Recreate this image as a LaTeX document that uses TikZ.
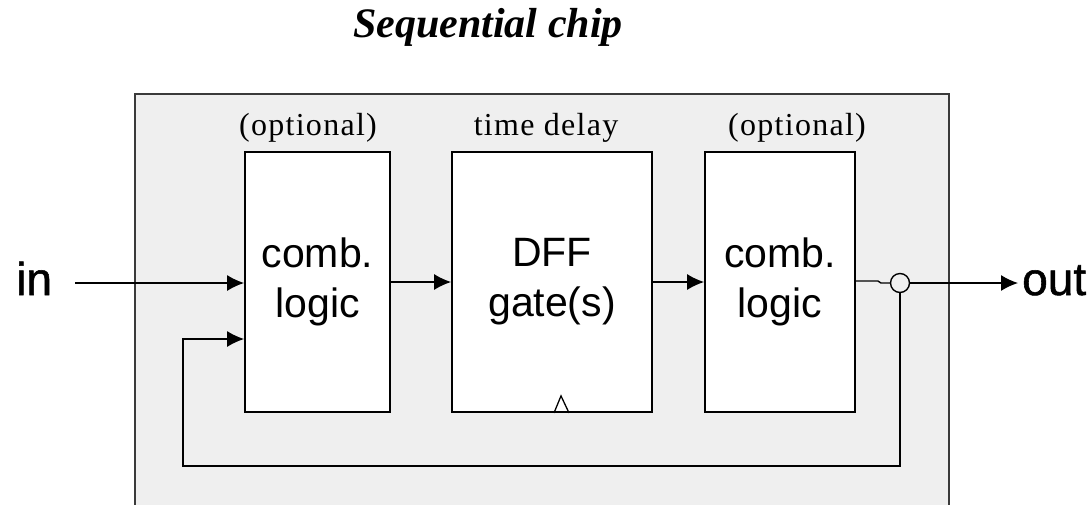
\documentclass[tikz,border=0pt]{standalone}
\usepackage{fontspec}
\setmainfont{Liberation Serif}
\newfontfamily\labelsans{Liberation Sans}
\newfontfamily\portsans[FakeBold=1.2]{Liberation Sans}
\usetikzlibrary{arrows.meta,calc}
\definecolor{chipgray}{HTML}{EFEFEF}
\definecolor{framegray}{HTML}{3A3A3A}
\begin{document}
\begin{tikzpicture}[x=1pt,y=-1pt,
  blockbox/.style={draw=black, line width=1.8pt, fill=white, minimum height=260pt,
    inner sep=0pt, align=center, font=\labelsans\fontsize{41}{50}\selectfont},
  wire/.style={line width=1.4pt, line join=miter},
  flow/.style={wire, -{Latex[length=17pt,width=16pt]}},
  tag/.style={font=\fontsize{32}{36}\selectfont\addfontfeature{LetterSpace=4},
    anchor=base, inner sep=0pt},
  port/.style={font=\portsans\fontsize{46}{50}\selectfont, anchor=base west, inner sep=0pt}]

\useasboundingbox (0,0) rectangle (1091,504);

% chip enclosure (runs past the lower edge)
\draw[framegray, line width=1.8pt, fill=chipgray] (135,94) rectangle (949,540);

% title
\node[font=\fontsize{42}{44}\selectfont\bfseries\itshape, anchor=base] (title) at (488,37) {Sequential chip};

% the three stages
\node[blockbox, minimum width=145pt] (comb1) at (317.5,282) {comb.\\logic};
\node[blockbox, minimum width=200pt] (dff)   at (552,282)   {DFF\\gate(s)};
\node[blockbox, minimum width=150pt] (comb2) at (780,282)   {comb.\\logic};

% stage captions
\node[tag] (opt1)  at (308,135) {(optional)};
\node[tag] (delay) at (546,135) {time delay};
\node[tag] (opt2)  at (797,135) {(optional)};

% clock mark on the flip-flop
\draw[line width=1.3pt] ([xshift=2pt]dff.south) -- ++(7,-17) -- ++(8,17);

% output junction
\node[circle, draw, line width=1.4pt, fill=chipgray, minimum size=19pt, inner sep=0pt] (join) at (900,283) {};

% ports
\node[port] (inlbl)  at (16,295)   {in};
\node[port] (outlbl) at (1022,295) {out};
\coordinate (instart) at (75,283);
\coordinate (outtip)  at (1018,283);
\coordinate (fbbottom) at (183,466);
\coordinate (fbturn)   at (183,339);

% signal path
\draw[flow] (instart) -- (instart -| comb1.west);
\draw[flow] (comb1.east) -- (dff.west);
\draw[flow] (dff.east) -- (comb2.west);
\draw[wire] ([yshift=1pt]comb2.east) -- ++(22,0) -- ++(3,2) -- (join.west);
\draw[flow] (join.east) -- (outtip);

% feedback loop
\draw[flow] (join.south) -- (join |- fbbottom) -- (fbbottom) -- (fbturn) -- (fbturn -| comb1.west);
\end{tikzpicture}
\end{document}
